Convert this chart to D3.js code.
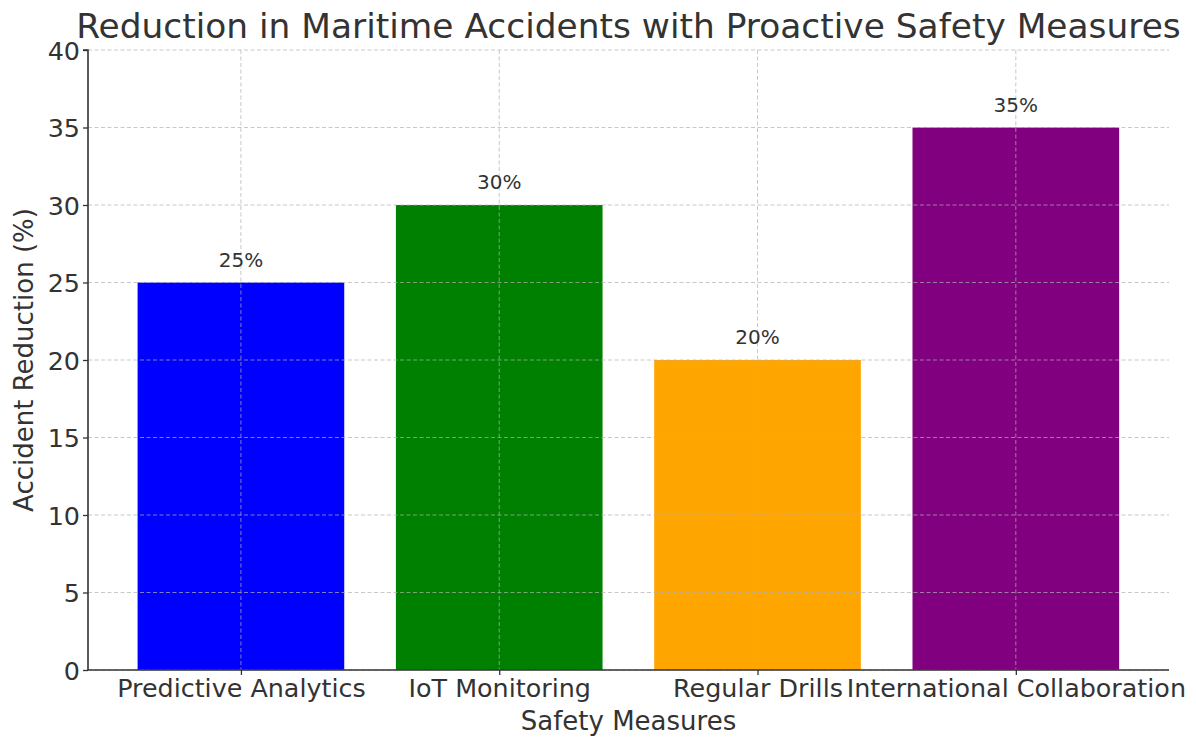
<!DOCTYPE html>
<html>
<head>
<meta charset="utf-8">
<script src="https://cdn.jsdelivr.net/npm/d3@7"></script>
<style>
  html, body { margin: 0; padding: 0; background: #fff; }
  svg { display: block; font-family: "DejaVu Sans", sans-serif; }
</style>
</head>
<body>
<svg id="chart" width="1196" height="737"></svg>
<script>
// Chart data
const categories = ["Predictive Analytics", "IoT Monitoring", "Regular Drills", "International Collaboration"];
const reductions = [25, 30, 20, 35];
const barColors = ["blue", "green", "orange", "purple"];
const yTicks = [0, 5, 10, 15, 20, 25, 30, 35, 40];

const svg = d3.select("#chart");
const margin = { left: 88, right: 1169, top: 50, bottom: 670 };
const textColor = "#333";
const fontFamily = '"DejaVu Sans", sans-serif';

const x = d3.scaleLinear().domain([-0.592, 3.593]).range([margin.left, margin.right]);
const y = d3.scaleLinear().domain([0, 40]).range([margin.bottom, margin.top]);
const barWidth = 0.8;

// Bars
svg.append("g").selectAll("rect")
  .data(reductions)
  .join("rect")
  .attr("x", (d, i) => x(i - barWidth / 2))
  .attr("width", (d, i) => x(i + barWidth / 2) - x(i - barWidth / 2))
  .attr("y", d => y(d))
  .attr("height", d => y(0) - y(d))
  .attr("fill", (d, i) => barColors[i]);

// Grid drawn over the bars
const grid = svg.append("g").attr("stroke", "#b0b0b0").attr("stroke-opacity", 0.7)
  .attr("stroke-width", 1).attr("stroke-dasharray", "4,2.5");
grid.selectAll("line.h").data(yTicks).join("line").attr("class", "h")
  .attr("x1", margin.left).attr("x2", margin.right)
  .attr("y1", d => y(d)).attr("y2", d => y(d));
grid.selectAll("line.v").data(categories).join("line").attr("class", "v")
  .attr("x1", (d, i) => x(i)).attr("x2", (d, i) => x(i))
  .attr("y1", margin.top).attr("y2", margin.bottom);

// Y axis
const yAxis = d3.axisLeft(y).tickValues(yTicks).tickSize(5).tickPadding(3).tickFormat(d3.format("d"));
const yg = svg.append("g").attr("transform", `translate(${margin.left},0)`).call(yAxis)
  .attr("font-family", fontFamily);
yg.select(".domain").attr("stroke", textColor).attr("stroke-width", 1.6).attr("d", `M-5,${margin.top}H0V${margin.bottom}`);
yg.selectAll(".tick line").attr("stroke", textColor).attr("stroke-width", 1.3);
yg.selectAll(".tick text").attr("fill", textColor).style("font-size", "25.4px").attr("dy", "0.36em");

// X axis
const xAxis = d3.axisBottom(x).tickValues(d3.range(categories.length)).tickSize(5)
  .tickFormat(i => categories[i]);
const xg = svg.append("g").attr("transform", `translate(0,${margin.bottom})`).call(xAxis)
  .attr("font-family", fontFamily);
xg.select(".domain").attr("stroke", textColor).attr("stroke-width", 1.6).attr("d", `M${margin.left},0H${margin.right}`);
xg.selectAll(".tick line").attr("stroke", textColor).attr("stroke-width", 1.3);
xg.selectAll(".tick text").attr("fill", textColor).style("font-size", "25.4px").attr("y", 27).attr("dy", 0);

// Value labels
svg.append("g").selectAll("text")
  .data(reductions)
  .join("text")
  .attr("x", (d, i) => x(i))
  .attr("y", d => y(d) - 16)
  .attr("text-anchor", "middle")
  .attr("fill", textColor)
  .style("font-size", "20px")
  .text(d => d + "%");

// Axis titles
svg.append("text")
  .attr("x", (margin.left + margin.right) / 2).attr("y", 730)
  .attr("text-anchor", "middle").attr("fill", textColor).style("font-size", "26px")
  .text("Safety Measures");
svg.append("text")
  .attr("transform", `translate(33,${(margin.top + margin.bottom) / 2}) rotate(-90)`)
  .attr("text-anchor", "middle").attr("fill", textColor).style("font-size", "26px")
  .text("Accident Reduction (%)");

// Chart title
svg.append("text")
  .attr("x", (margin.left + margin.right) / 2).attr("y", 38)
  .attr("text-anchor", "middle").attr("fill", textColor).style("font-size", "34.4px")
  .text("Reduction in Maritime Accidents with Proactive Safety Measures");
</script>
</body>
</html>
